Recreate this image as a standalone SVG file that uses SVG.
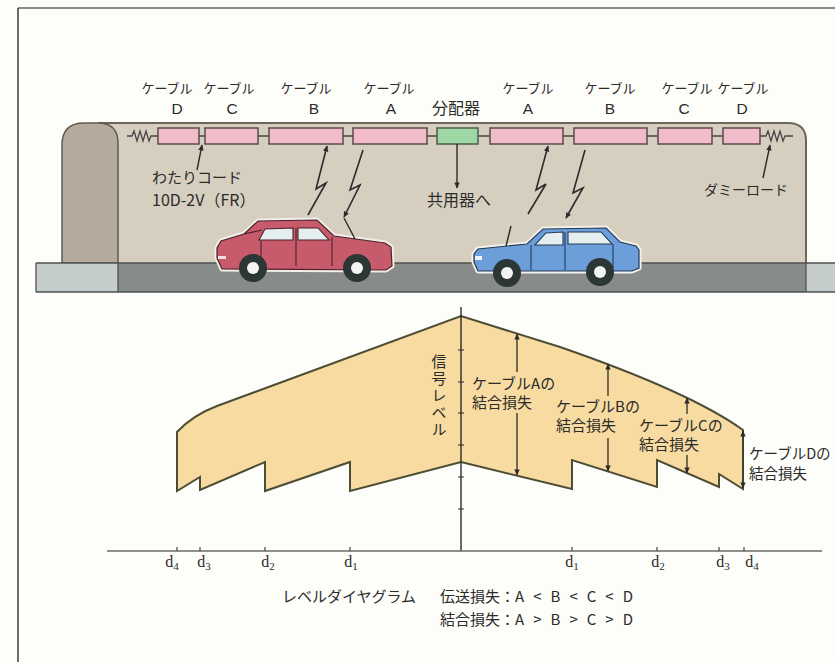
<svg xmlns="http://www.w3.org/2000/svg" width="835" height="662" viewBox="0 0 835 662">
  <defs>
    <style>
      .jp{font-family:"Noto Sans CJK JP","Noto Sans",sans-serif;fill:#2b2b2b}
      .lat{font-family:"Liberation Sans",Arial,sans-serif;fill:#2b2b2b}
      .ser{font-family:"Liberation Serif","DejaVu Serif",serif;fill:#2b2b2b}
      .vert{writing-mode:vertical-rl;text-orientation:upright;letter-spacing:2px}
      .cable{fill:#f3bccb;stroke:#5b4b4e;stroke-width:1.5}
      .splitter{fill:#9fd8a4;stroke:#4d5d4d;stroke-width:1.5}
      .wire{stroke:#4a4444;stroke-width:1.3;fill:none}
      .lead{stroke:#2b2b2b;stroke-width:1.4;fill:none}
      .bolt{stroke:#2b2b2b;stroke-width:1.6;fill:none;stroke-linejoin:miter}
      .dim{stroke:#3b3b2b;stroke-width:1.4;fill:none}
      .tire{fill:#2c3634}
      .hub{fill:#f2f4f4}
      .win{fill:#e6eff0;stroke-width:1.1}
    </style>
    <marker id="ah" viewBox="0 0 10 10" refX="9" refY="5" markerWidth="7" markerHeight="6" orient="auto-start-reverse" markerUnits="userSpaceOnUse">
      <path d="M0,0.5 L10,5 L0,9.5 Z" fill="#2b2b2b"/>
    </marker>
  </defs>

  <!-- page and frame -->
  <rect x="0" y="0" width="835" height="662" fill="#fdfdf9"/>
  <line x1="18" y1="8" x2="835" y2="8" stroke="#8a8a86" stroke-width="2"/>
  <line x1="18" y1="8" x2="18" y2="662" stroke="#3c3c3c" stroke-width="1.5"/>

  <!-- tunnel -->
  <g id="tunnel">
    <path d="M98,123 H788 Q806,123 806,141 V263 H118 V143 Q118,123 98,123 Z" fill="#d6cfc0"/>
    <path d="M98,123 H788 Q806,123 806,141 V263" fill="none" stroke="#6b675f" stroke-width="2"/>
    <path d="M62,263 V145 Q62,123 84,123 H98 Q118,123 118,143 V263 Z" fill="#b5ab9d" stroke="#5e5a54" stroke-width="1.5"/>
  </g>

  <!-- road -->
  <g id="road">
    <rect x="118" y="263" width="688" height="29" fill="#878b89"/>
    <rect x="36" y="263" width="82" height="29" fill="#c4cdcc"/>
    <rect x="806" y="263" width="30" height="29" fill="#c4cdcc"/>
    <path d="M36,263 H835 M36,292 H835 M36,263 V292 M118,263 V292 M806,263 V292" fill="none" stroke="#4e5250" stroke-width="1.3"/>
  </g>

  <!-- leaky coaxial cable line -->
  <g id="cable-line">
    <line class="wire" x1="158" y1="136" x2="760" y2="136"/>
  </g>
  <g id="load-left">
    <path class="wire" d="M127,136 H132 L134,131 L137,141 L140,131 L143,141 L146,131 L149,141 L151,136 H158"/>
  </g>
  <g id="load-right">
    <path class="wire" d="M760,136 H766 L768,131 L771,141 L774,131 L777,141 L780,131 L783,141 L785,136 H793"/>
  </g>
  <g id="cable-d-left"><rect class="cable" x="158" y="128" width="41" height="16"/></g>
  <g id="cable-c-left"><rect class="cable" x="205" y="128" width="53" height="16"/></g>
  <g id="cable-b-left"><rect class="cable" x="269" y="128" width="74" height="16"/></g>
  <g id="cable-a-left"><rect class="cable" x="353" y="128" width="74" height="16"/></g>
  <g id="splitter"><rect class="splitter" x="437" y="128" width="41" height="16"/></g>
  <g id="cable-a-right"><rect class="cable" x="490" y="128" width="73" height="16"/></g>
  <g id="cable-b-right"><rect class="cable" x="574" y="128" width="73" height="16"/></g>
  <g id="cable-c-right"><rect class="cable" x="658" y="128" width="54" height="16"/></g>
  <g id="cable-d-right"><rect class="cable" x="723" y="128" width="37" height="16"/></g>

  <!-- top labels -->
  <g id="labels-top">
    <text class="jp" font-size="13" text-anchor="middle" x="167" y="93">ケーブル</text>
    <text class="lat" font-size="15.5" text-anchor="middle" x="177" y="114">D</text>
    <text class="jp" font-size="13" text-anchor="middle" x="229" y="93">ケーブル</text>
    <text class="lat" font-size="15.5" text-anchor="middle" x="232" y="114">C</text>
    <text class="jp" font-size="13" text-anchor="middle" x="306" y="93">ケーブル</text>
    <text class="lat" font-size="15.5" text-anchor="middle" x="314" y="114">B</text>
    <text class="jp" font-size="13" text-anchor="middle" x="389" y="93">ケーブル</text>
    <text class="lat" font-size="15.5" text-anchor="middle" x="391" y="114">A</text>
    <text class="jp" font-size="16" text-anchor="middle" x="456" y="114">分配器</text>
    <text class="jp" font-size="13" text-anchor="middle" x="528" y="93">ケーブル</text>
    <text class="lat" font-size="15.5" text-anchor="middle" x="528" y="114">A</text>
    <text class="jp" font-size="13" text-anchor="middle" x="610" y="93">ケーブル</text>
    <text class="lat" font-size="15.5" text-anchor="middle" x="610" y="114">B</text>
    <text class="jp" font-size="13" text-anchor="middle" x="687" y="93">ケーブル</text>
    <text class="lat" font-size="15.5" text-anchor="middle" x="684" y="114">C</text>
    <text class="jp" font-size="13" text-anchor="middle" x="743" y="93">ケーブル</text>
    <text class="lat" font-size="15.5" text-anchor="middle" x="742" y="114">D</text>
  </g>

  <!-- tunnel annotations -->
  <g id="label-jumper">
    <text class="jp" font-size="15" x="152" y="183">わたりコード</text>
    <text class="jp" font-size="16" x="152" y="206">10D-2V（FR）</text>
  </g>
  <g id="label-combiner">
    <text class="jp" font-size="16" text-anchor="middle" x="459" y="206">共用器へ</text>
  </g>
  <g id="label-dummy">
    <text class="jp" font-size="14" x="704" y="195">ダミーロード</text>
  </g>

  <!-- red car -->
  <g id="car-red">
    <path d="M217,258 L217,248 L221,241 L244,234 L258,221 L317,220 L334,236 L385,243 L391,247 L392,266 L386,270 L222,269 Z" fill="none" stroke="#f4eeea" stroke-width="5" stroke-linejoin="round"/>
    <path d="M217,258 L217,248 L221,241 L244,234 L258,221 L317,220 L334,236 L385,243 L391,247 L392,266 L386,270 L222,269 Z" fill="#c75a6b" stroke="#4b2329" stroke-width="1.2"/>
    <path class="win" d="M265,229 L293,228 L293,240 L259,240 Z" stroke="#4b2329"/>
    <path class="win" d="M298,228 L318,228 L329,240 L298,240 Z" stroke="#4b2329"/>
    <path d="M261,241 V266 M296,228 V266 M332,237 V266 M244,234 L262,230" fill="none" stroke="#4b2329" stroke-width="1.1"/>
    <rect x="218" y="256" width="8" height="3" fill="#f1dfe2"/>
    <circle class="tire" cx="253" cy="268" r="14"/>
    <circle class="hub" cx="253" cy="268" r="6"/>
    <circle class="tire" cx="357" cy="268" r="14"/>
    <circle class="hub" cx="357" cy="268" r="6"/>
  </g>

  <!-- blue car -->
  <g id="car-blue">
    <path d="M474,262 L474,254 L478,249 L527,244 L543,229 L606,228 L620,242 L636,246 L639,250 L639,268 L632,271 L478,271 Z" fill="none" stroke="#f4f1ea" stroke-width="5" stroke-linejoin="round"/>
    <path d="M474,262 L474,254 L478,249 L527,244 L543,229 L606,228 L620,242 L636,246 L639,250 L639,268 L632,271 L478,271 Z" fill="#6c9fd9" stroke="#24395a" stroke-width="1.2"/>
    <path class="win" d="M546,233 L563,232 L563,245 L535,245 Z" stroke="#24395a"/>
    <path class="win" d="M568,232 L601,232 L612,244 L568,244 Z" stroke="#24395a"/>
    <path d="M531,245 V270 M565,232 V270 M613,244 V268" fill="none" stroke="#24395a" stroke-width="1.1"/>
    <rect x="475" y="256" width="7" height="4" fill="#eef3fb"/>
    <circle class="tire" cx="507" cy="273" r="14"/>
    <circle class="hub" cx="507" cy="273" r="6"/>
    <circle class="tire" cx="600" cy="272" r="14"/>
    <circle class="hub" cx="600" cy="272" r="6"/>
  </g>

  <!-- level diagram -->
  <g id="level-diagram">
    <path d="M177,432 Q193,415 217,406 L461,316 L560,347 Q690,392 743,430 L743,489 L719,474 L719,487 L657,460 L657,487 L572,460 L572,489 L461,462 L350,491 L350,462 L265,491 L265,462 L200,490 L200,477 L177,491 Z" fill="#f8dba1" stroke="#4d4d35" stroke-width="2" stroke-linejoin="miter"/>
  </g>
  <g id="axes">
    <line x1="461" y1="307" x2="461" y2="551" stroke="#2b2b2b" stroke-width="1.4"/>
    <path d="M458,350 H464 M458,382 H464 M458,413 H464 M458,445 H464 M458,477 H464 M458,509 H464" stroke="#2b2b2b" stroke-width="1.2"/>
    <line x1="107" y1="551" x2="822" y2="551" stroke="#6a6a66" stroke-width="1.6"/>
    <path d="M177,547 V551 M200,547 V551 M265,547 V551 M350,547 V551 M572,547 V551 M657,547 V551 M719,547 V551 M744,547 V551" stroke="#444" stroke-width="1.2"/>
  </g>
  <g id="signal-level-label">
    <text class="jp vert" font-size="15" x="439" y="354">信号レベル</text>
  </g>
  <g id="loss-labels">
    <text class="jp" font-size="15" x="472" y="389">ケーブルAの</text>
    <text class="jp" font-size="15" x="472" y="408">結合損失</text>
    <text class="jp" font-size="15" x="556" y="412">ケーブルBの</text>
    <text class="jp" font-size="15" x="556" y="431">結合損失</text>
    <text class="jp" font-size="15" x="639" y="431">ケーブルCの</text>
    <text class="jp" font-size="15" x="639" y="450">結合損失</text>
    <text class="jp" font-size="14.5" x="749" y="459">ケーブルDの</text>
    <text class="jp" font-size="14.5" x="749" y="479">結合損失</text>
  </g>
  <g id="distance-labels" class="ser" font-size="16" text-anchor="middle">
    <text x="172" y="567">d<tspan font-size="11" dy="3">4</tspan></text>
    <text x="204" y="567">d<tspan font-size="11" dy="3">3</tspan></text>
    <text x="268" y="567">d<tspan font-size="11" dy="3">2</tspan></text>
    <text x="351" y="567">d<tspan font-size="11" dy="3">1</tspan></text>
    <text x="572" y="567">d<tspan font-size="11" dy="3">1</tspan></text>
    <text x="658" y="567">d<tspan font-size="11" dy="3">2</tspan></text>
    <text x="723" y="567">d<tspan font-size="11" dy="3">3</tspan></text>
    <text x="752" y="567">d<tspan font-size="11" dy="3">4</tspan></text>
  </g>
  <g id="caption">
    <text class="jp" font-size="15" x="282" y="602">レベルダイヤグラム</text>
    <text class="jp" font-size="15" x="440" y="602">伝送損失：<tspan textLength="118" lengthAdjust="spacing">A&lt;B&lt;C&lt;D</tspan></text>
    <text class="jp" font-size="15" x="440" y="625">結合損失：<tspan textLength="118" lengthAdjust="spacing">A&gt;B&gt;C&gt;D</tspan></text>
  </g>

  <!-- connectors: leaders, radio links, loss dimensions -->
  <g id="connectors">
    <line class="lead" x1="197" y1="170" x2="202" y2="145" marker-end="url(#ah)"/>
    <line class="lead" x1="457" y1="144" x2="457" y2="188" marker-end="url(#ah)"/>
    <line class="lead" x1="763" y1="178" x2="770" y2="145" marker-end="url(#ah)"/>
    <polyline class="bolt" points="308,215 326,183 316,189 327,146" marker-end="url(#ah)"/>
    <polyline class="bolt" points="363,150 350,190 360,185 344,217" marker-end="url(#ah)"/>
    <line class="lead" x1="344" y1="218" x2="355" y2="239"/>
    <polyline class="bolt" points="528,214 546,184 536,190 548,146" marker-end="url(#ah)"/>
    <polyline class="bolt" points="585,150 573,193 583,188 566,218" marker-end="url(#ah)"/>
    <line class="lead" x1="506" y1="246" x2="511" y2="226"/>
    <line class="dim" x1="517" y1="372" x2="517" y2="334" marker-end="url(#ah)"/>
    <line class="dim" x1="517" y1="413" x2="517" y2="475" marker-end="url(#ah)"/>
    <line class="dim" x1="608" y1="396" x2="608" y2="364" marker-end="url(#ah)"/>
    <line class="dim" x1="608" y1="438" x2="608" y2="471" marker-end="url(#ah)"/>
    <line class="dim" x1="687" y1="414" x2="687" y2="398" marker-end="url(#ah)"/>
    <line class="dim" x1="687" y1="455" x2="687" y2="473" marker-end="url(#ah)"/>
    <line class="dim" x1="743" y1="460" x2="743" y2="431" marker-end="url(#ah)"/>
    <line class="dim" x1="743" y1="460" x2="743" y2="488" marker-end="url(#ah)"/>
  </g>
</svg>
